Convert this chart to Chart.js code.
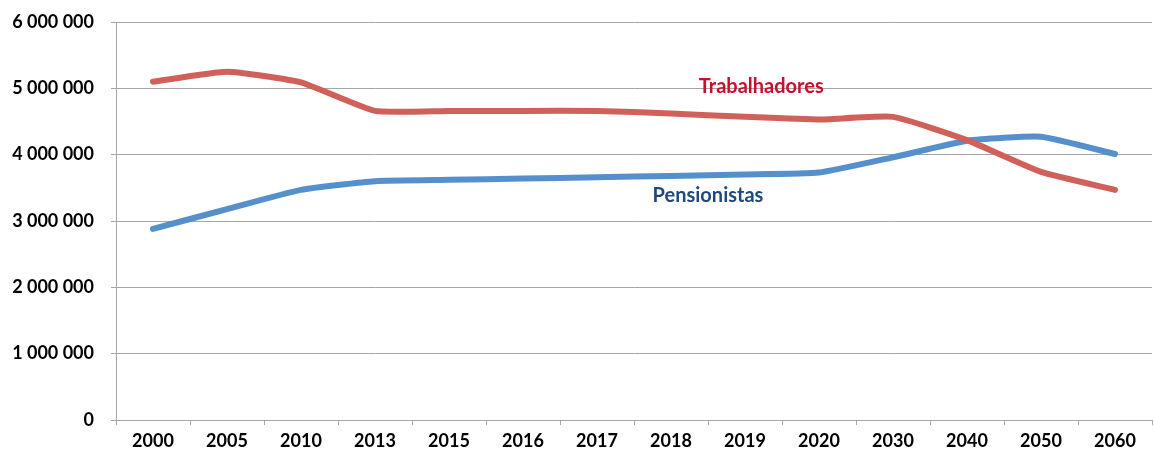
<!DOCTYPE html>
<html>
<head>
<meta charset="utf-8">
<script src="https://cdn.jsdelivr.net/npm/chart.js@4"></script>
<style>
    html, body { margin: 0; padding: 0; background: #ffffff; }
    #wrap { width: 1154px; height: 460px; }
</style>
</head>
<body>
<div id="wrap"><canvas id="popChart" width="1154" height="460"></canvas></div>
<script>
// Data
const years = ['2000', '2005', '2010', '2013', '2015', '2016', '2017', '2018', '2019', '2020', '2030', '2040', '2050', '2060'];
const trabalhadores = [5100000, 5250000, 5090000, 4660000, 4660000, 4660000, 4660000, 4620000, 4570000, 4530000, 4570000, 4220000, 3740000, 3470000];
const pensionistas = [2880000, 3180000, 3470000, 3600000, 3620000, 3640000, 3660000, 3680000, 3700000, 3730000, 3960000, 4210000, 4270000, 4010000];
const yTicks = [0, 1000000, 2000000, 3000000, 4000000, 5000000, 6000000];

const FONT = 'Lato, "Open Sans", sans-serif';

function formatNumber(v) {
    return String(v).replace(/\B(?=(\d{3})+(?!\d))/g, ' ');
}

// Series names written next to the lines
const seriesLabels = {
    id: 'seriesLabels',
    afterDatasetsDraw(chart) {
        const ctx = chart.ctx;
        const x = chart.scales.x;
        const y = chart.scales.y;
        const step = x.getPixelForValue(1) - x.getPixelForValue(0);
        ctx.save();
        ctx.font = 'bold 20px ' + FONT;
        ctx.textAlign = 'center';
        ctx.textBaseline = 'middle';

        ctx.fillStyle = '#C8102E';
        ctx.fillText('Trabalhadores', x.getPixelForValue(8) + step * 0.22, y.getPixelForValue(5020000));

        ctx.fillStyle = '#1F497D';
        ctx.fillText('Pensionistas', x.getPixelForValue(7) + step * 0.5, y.getPixelForValue(3380000));
        ctx.restore();
    }
};

const ctx = document.getElementById('popChart').getContext('2d');
const popChart = new Chart(ctx, {
    type: 'line',
    data: {
        labels: years,
        datasets: [
            {
                label: 'Trabalhadores',
                data: trabalhadores,
                borderColor: '#D0605A',
                borderWidth: 6,
                pointRadius: 0,
                tension: 0.15,
                borderCapStyle: 'round',
                borderJoinStyle: 'round',
                fill: false
            },
            {
                label: 'Pensionistas',
                data: pensionistas,
                borderColor: '#5690CC',
                borderWidth: 6,
                pointRadius: 0,
                tension: 0.15,
                borderCapStyle: 'round',
                borderJoinStyle: 'round',
                fill: false
            }
        ]
    },
    options: {
        responsive: false,
        animation: false,
        layout: {
            padding: { top: 22, right: 2, left: 0, bottom: 0 }
        },
        plugins: {
            legend: { display: false },
            tooltip: { enabled: false }
        },
        scales: {
            x: {
                offset: true,
                grid: {
                    offset: true,
                    drawOnChartArea: false,
                    drawTicks: true,
                    tickLength: 5,
                    color: '#A6A6A6'
                },
                border: { color: '#A6A6A6', width: 1 },
                ticks: {
                    color: '#000000',
                    font: { family: FONT, size: 18, weight: 'bold' },
                    padding: 5,
                    maxRotation: 0,
                    autoSkip: false
                },
                afterFit: function(scale) {
                    scale.height = 40;
                    scale.paddingLeft = 0;
                    scale.paddingRight = 0;
                }
            },
            y: {
                min: 0,
                max: 6000000,
                afterBuildTicks: function(scale) {
                    scale.ticks = yTicks.map(v => ({ value: v }));
                },
                grid: {
                    color: '#A6A6A6',
                    lineWidth: 1,
                    tickLength: 5
                },
                border: { color: '#A6A6A6', width: 1 },
                ticks: {
                    color: '#000000',
                    font: { family: FONT, size: 18, weight: 'bold' },
                    padding: 17,
                    callback: function(value) {
                        return formatNumber(value);
                    }
                },
                afterFit: function(scale) {
                    scale.width = 116;
                    scale.paddingTop = 0;
                    scale.paddingBottom = 0;
                }
            }
        }
    },
    plugins: [seriesLabels]
});
</script>
</body>
</html>
